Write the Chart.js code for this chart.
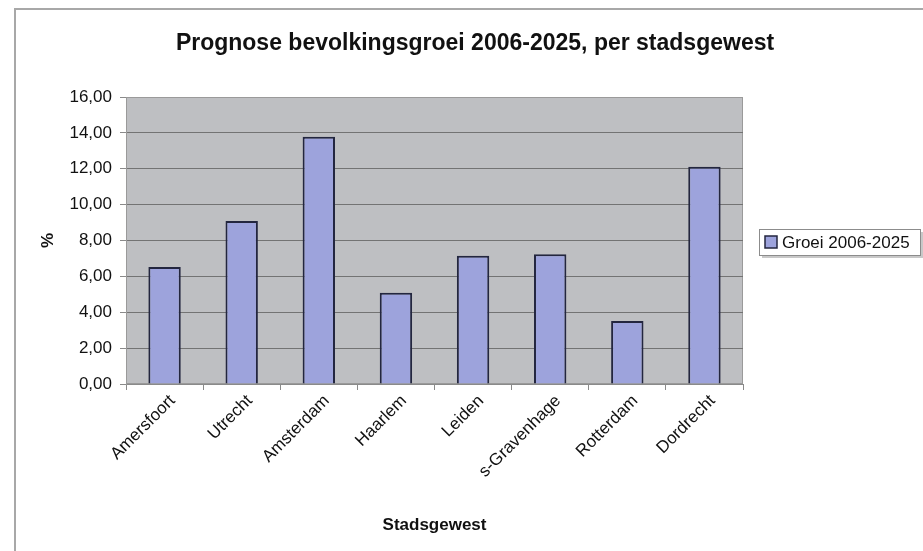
<!DOCTYPE html>
<html>
<head>
<meta charset="utf-8">
<title>Prognose bevolkingsgroei 2006-2025</title>
<script src="https://cdn.jsdelivr.net/npm/chart.js@4/dist/chart.umd.min.js"></script>
<style>
  html, body { margin: 0; padding: 0; background: #fff; }
  #chart { display: block; }
</style>
</head>
<body>
<canvas id="chart" width="923" height="551"></canvas>
<script>
// gegevens
const categories = ['Amersfoort', 'Utrecht', 'Amsterdam', 'Haarlem', 'Leiden', 's-Gravenhage', 'Rotterdam', 'Dordrecht'];
const groei = [6.52, 9.09, 13.78, 5.09, 7.15, 7.23, 3.51, 12.11];
const seriesLabel = 'Groei 2006-2025';
const titleText = 'Prognose bevolkingsgroei 2006-2025, per stadsgewest';
const xTitle = 'Stadsgewest';
const yTitle = '%';
const yMin = 0, yMax = 16, yStep = 2;

const FONT = "'Liberation Sans', Arial, sans-serif";
const BAR_FILL = '#9da3dc';
const BAR_EDGE = '#23263f';

Chart.defaults.font.family = FONT;
Chart.defaults.color = '#111';

// achtergrond, kader, titel en legenda
const decorPlugin = {
    id: 'decor',
    beforeDraw(chart) {
        const { ctx, chartArea: a, width, height } = chart;
        ctx.save();
        ctx.fillStyle = '#fff';
        ctx.fillRect(0, 0, width, height);
        // buitenkader
        ctx.strokeStyle = '#a8a8a8';
        ctx.lineWidth = 2;
        ctx.beginPath();
        ctx.moveTo(15, height);
        ctx.lineTo(15, 9);
        ctx.lineTo(width, 9);
        ctx.stroke();
        // plotvlak
        ctx.fillStyle = '#bebfc2';
        ctx.fillRect(a.left, a.top, a.right - a.left, a.bottom - a.top);
        ctx.strokeStyle = '#9a9a9a';
        ctx.lineWidth = 1;
        ctx.strokeRect(a.left + 0.5, a.top + 0.5, a.right - a.left - 1, a.bottom - a.top - 1);
        ctx.restore();
    },
    afterDraw(chart) {
        const { ctx } = chart;
        ctx.save();
        // titel
        ctx.fillStyle = '#111';
        ctx.font = 'bold 23px ' + FONT;
        ctx.textAlign = 'center';
        ctx.textBaseline = 'middle';
        ctx.fillText(titleText, 475, 44);
        // legenda
        const lx = 759, ly = 229, lw = 161, lh = 26;
        ctx.fillStyle = '#c8c8c8';
        ctx.fillRect(lx + 3, ly + 3, lw, lh);
        ctx.fillStyle = '#fff';
        ctx.fillRect(lx, ly, lw, lh);
        ctx.strokeStyle = '#8c8c8c';
        ctx.lineWidth = 1;
        ctx.strokeRect(lx + 0.5, ly + 0.5, lw, lh);
        const ds = chart.data.datasets[0];
        ctx.fillStyle = ds.backgroundColor;
        ctx.fillRect(lx + 6, ly + 7, 12, 12);
        ctx.strokeStyle = ds.borderColor;
        ctx.lineWidth = 1.5;
        ctx.strokeRect(lx + 6, ly + 7, 12, 12);
        ctx.fillStyle = '#111';
        ctx.font = '17px ' + FONT;
        ctx.textAlign = 'left';
        ctx.fillText(ds.label, lx + 23, ly + lh / 2 + 1);
        ctx.restore();
    }
};

new Chart(document.getElementById('chart').getContext('2d'), {
    type: 'bar',
    data: {
        labels: categories,
        datasets: [{
            label: seriesLabel,
            data: groei,
            backgroundColor: BAR_FILL,
            borderColor: BAR_EDGE,
            borderWidth: 2,
            barPercentage: 0.42,
            categoryPercentage: 1
        }]
    },
    options: {
        responsive: false,
        animation: false,
        layout: { padding: { top: 97, left: 30, right: 180, bottom: 14 } },
        plugins: {
            legend: { display: false },
            title: { display: false },
            tooltip: { enabled: false }
        },
        scales: {
            x: {
                grid: {
                    offset: true,
                    drawOnChartArea: false,
                    tickLength: 6,
                    color: '#8a8a8a'
                },
                border: { color: '#8a8a8a' },
                ticks: {
                    minRotation: 45,
                    maxRotation: 45,
                    padding: 1,
                    labelOffset: 8,
                    font: { size: 17 },
                    color: '#111'
                },
                title: {
                    display: true,
                    text: xTitle,
                    font: { size: 17, weight: 'bold' },
                    color: '#111',
                    padding: { top: 0, bottom: 1 }
                },
                afterFit(scale) { scale.height = 153; }
            },
            y: {
                min: yMin,
                max: yMax,
                grid: {
                    color: (c) => (c.tick && c.tick.value === yMax) ? 'rgba(0,0,0,0)' : '#737373',
                    tickColor: '#8a8a8a',
                    tickLength: 6
                },
                border: { color: '#9a9a9a' },
                ticks: {
                    stepSize: yStep,
                    padding: 8,
                    font: { size: 17 },
                    color: '#111',
                    callback: (v) => v.toFixed(2).replace('.', ',')
                },
                title: {
                    display: true,
                    text: yTitle,
                    font: { size: 17, weight: 'bold' },
                    color: '#111',
                    padding: { top: 8, bottom: 0 }
                },
                afterFit(scale) { scale.width = 96; }
            }
        }
    },
    plugins: [decorPlugin]
});
</script>
</body>
</html>
